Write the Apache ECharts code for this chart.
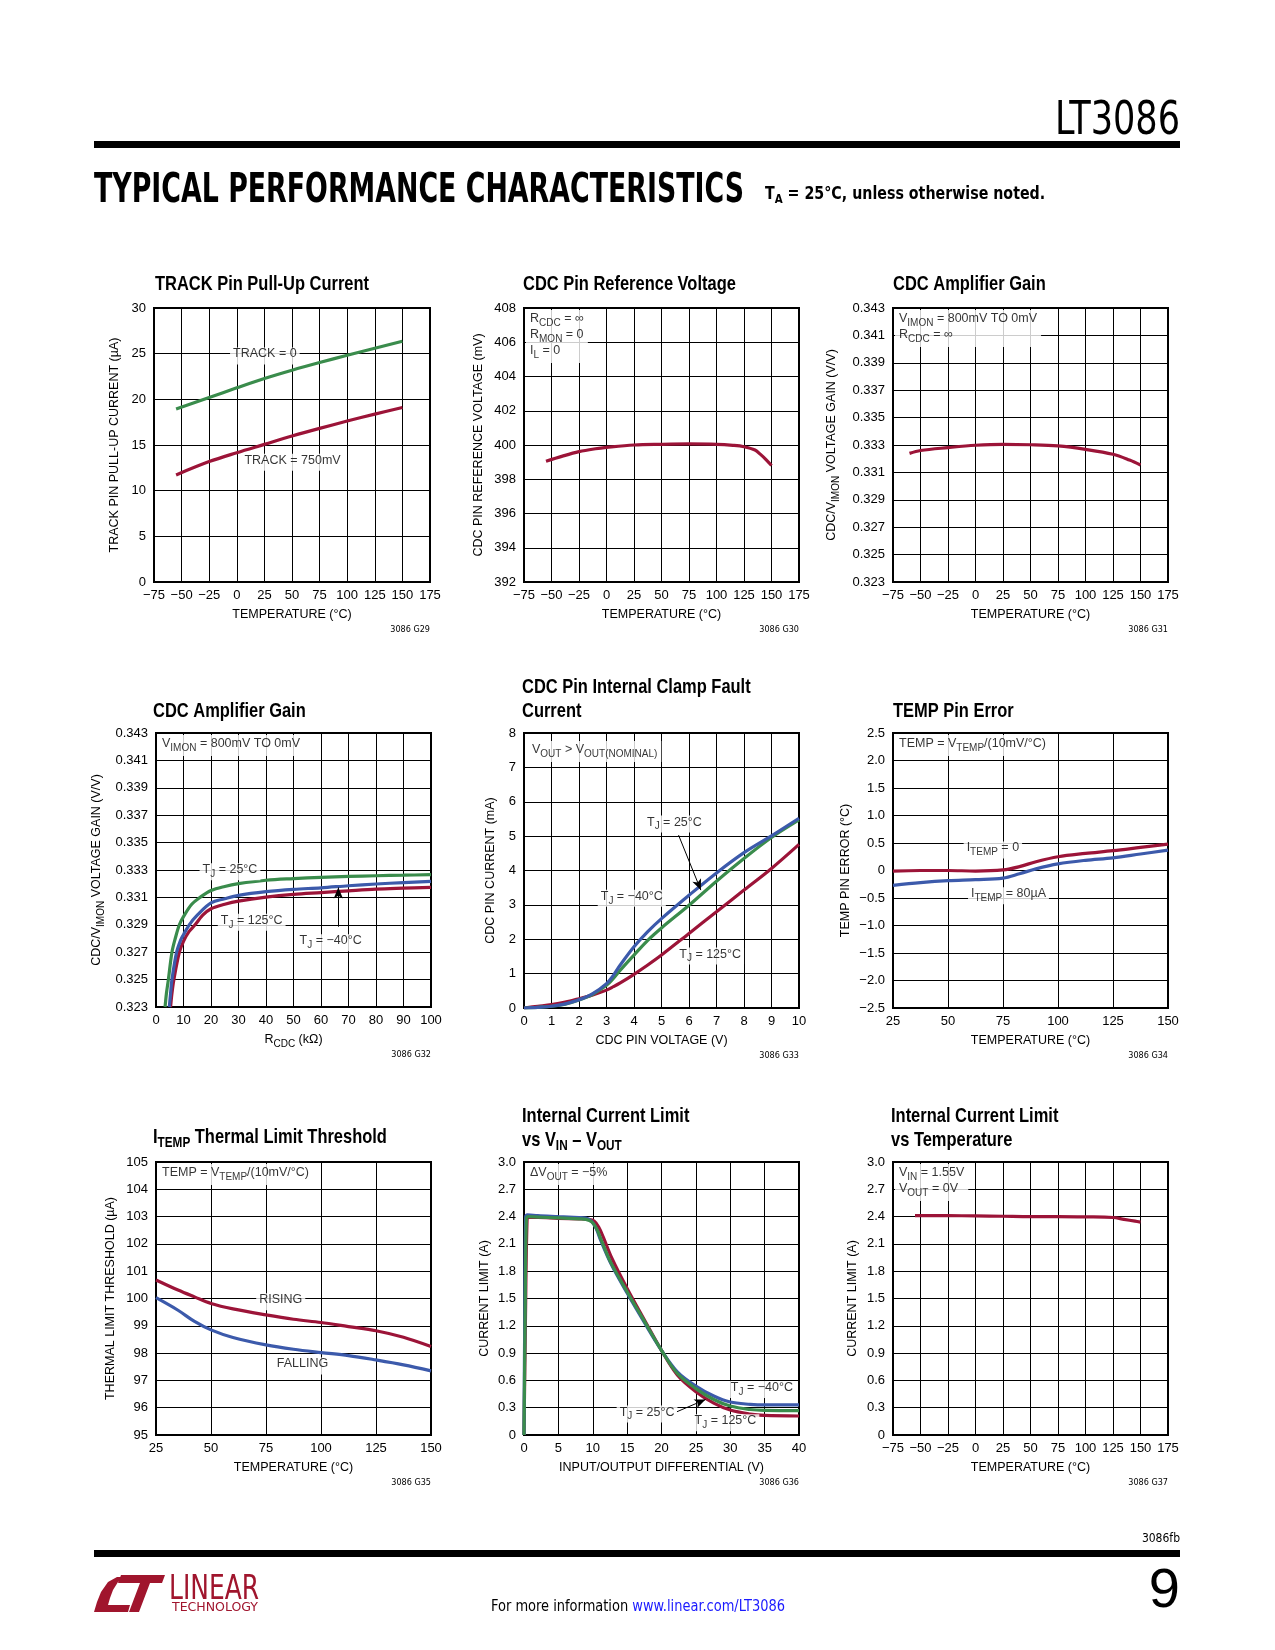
<!DOCTYPE html>
<html><head><meta charset="utf-8">
<script src="https://cdn.jsdelivr.net/npm/echarts@6/dist/echarts.min.js"></script>
<style>html,body{margin:0;padding:0;background:#fff}#c{width:1275px;height:1650px}</style>
</head><body><div id="c"></div>
<script>
// ================= DATA =================
// Chart 1: TRACK Pin Pull-Up Current
const c1Temp = [-55, -25, 0, 25, 50, 75, 100, 125, 150];
const c1Track0 = [18.93, 20.2, 21.26, 22.28, 23.19, 24.03, 24.83, 25.6, 26.36];
const c1Track750 = [11.72, 13.18, 14.16, 15.07, 15.98, 16.82, 17.62, 18.38, 19.11];

// Chart 2: CDC Pin Reference Voltage
const c2Temp = [-55, -40, -25, -10, 0, 25, 50, 75, 100, 115, 125, 135, 140, 145, 150];
const c2Vref = [399.05, 399.35, 399.61, 399.78, 399.86, 400.0, 400.04, 400.06, 400.04, 399.98, 399.9, 399.71, 399.45, 399.15, 398.8];

// Chart 3: CDC Amplifier Gain vs temperature
const c3Temp = [-60, -50, -25, 0, 25, 50, 75, 100, 125, 140, 150];
const c3Gain = [0.33239, 0.3326, 0.33281, 0.33298, 0.33305, 0.33302, 0.33293, 0.33268, 0.33232, 0.3319, 0.33154];

// Chart 4: CDC Amplifier Gain vs RCDC
const c4R25 = [3.3, 3.8, 4.5, 5.8, 7, 8.5, 10, 13, 16, 20, 25, 30, 40, 50, 60, 70, 80, 90, 100];
const c4G25 = [0.323, 0.324, 0.325, 0.327, 0.328, 0.329, 0.3296, 0.3305, 0.3310, 0.3315, 0.3318, 0.3320, 0.33225, 0.33237, 0.33246, 0.33253, 0.33258, 0.33262, 0.33266];
const c4Rm40 = [4.85, 5.3, 5.8, 7.5, 9, 10, 12.1, 15, 20, 25, 30, 40, 50, 60, 70, 80, 90, 100];
const c4Gm40 = [0.323, 0.324, 0.325, 0.327, 0.3279, 0.32828, 0.329, 0.3297, 0.3306, 0.3309, 0.33115, 0.33142, 0.33159, 0.3317, 0.33185, 0.33198, 0.33208, 0.33217];
const c4R125 = [5.3, 5.8, 6.5, 8.5, 10, 12, 14.2, 17, 20, 25, 30, 40, 50, 60, 70, 80, 90, 100];
const c4G125 = [0.323, 0.324, 0.325, 0.327, 0.3278, 0.3285, 0.329, 0.3297, 0.33017, 0.3305, 0.33073, 0.33102, 0.33122, 0.33135, 0.33148, 0.3316, 0.33167, 0.33173];

// Chart 5: CDC Pin Internal Clamp Fault Current
const c5V = [0, 0.5, 1, 1.5, 2, 2.5, 3, 3.25, 3.5, 4, 4.5, 5, 6, 7, 8, 9, 10];
const c5Im40 = [0, 0.02, 0.05, 0.12, 0.24, 0.42, 0.71, 0.95, 1.25, 1.78, 2.22, 2.60, 3.28, 3.93, 4.52, 5.01, 5.52];
const c5I25 = [0, 0.02, 0.05, 0.11, 0.23, 0.40, 0.66, 0.86, 1.1, 1.54, 1.97, 2.33, 2.99, 3.69, 4.35, 4.96, 5.47];
const c5I125 = [0, 0.05, 0.10, 0.17, 0.27, 0.38, 0.52, 0.62, 0.73, 0.98, 1.25, 1.54, 2.17, 2.80, 3.43, 4.06, 4.76];

// Chart 6: TEMP Pin Error
const c6Temp = [25, 37.5, 50, 62.5, 75, 82.5, 90, 100, 112.5, 125, 137.5, 150];
const c6Err0 = [-0.01, 0.0, 0.0, -0.01, 0.01, 0.07, 0.16, 0.25, 0.31, 0.36, 0.42, 0.48];
const c6Err80 = [-0.27, -0.22, -0.185, -0.167, -0.14, -0.06, 0.03, 0.12, 0.185, 0.23, 0.30, 0.37];

// Chart 7: ITEMP Thermal Limit Threshold
const c7Temp = [25, 35, 42.5, 50, 60, 75, 87.5, 100, 112.5, 125, 137.5, 150];
const c7Rising = [100.68, 100.31, 100.06, 99.82, 99.62, 99.40, 99.24, 99.12, 98.97, 98.82, 98.58, 98.24];
const c7Falling = [100.03, 99.57, 99.16, 98.85, 98.57, 98.30, 98.14, 98.02, 97.91, 97.75, 97.57, 97.35];

// Chart 8: Internal Current Limit vs VIN - VOUT
const c8Vm40 = [0, 0.1, 0.25, 0.5, 2, 5, 8, 9, 9.8, 10.5, 11.1, 12.6, 15, 17.4, 20, 22.3, 25, 27.6, 30, 32.9, 35, 40];
const c8Im40 = [0, 1.2, 2.40, 2.42, 2.41, 2.40, 2.39, 2.385, 2.35, 2.27, 2.15, 1.89, 1.56, 1.25, 0.93, 0.695, 0.538, 0.428, 0.362, 0.337, 0.33, 0.33];
const c8V25 = [0, 0.15, 0.35, 0.6, 2, 5, 8, 9, 9.9, 10.6, 11.2, 12.6, 15, 17.4, 20, 22.3, 25, 27.6, 30, 32.9, 35, 40];
const c8I25 = [0, 1.2, 2.38, 2.40, 2.395, 2.385, 2.375, 2.37, 2.34, 2.26, 2.15, 1.90, 1.575, 1.265, 0.93, 0.677, 0.51, 0.39, 0.318, 0.28, 0.27, 0.267];
const c8V125 = [0, 0.2, 0.45, 0.7, 2, 5, 8, 9.3, 10.2, 10.9, 11.5, 12.8, 15, 17.4, 20, 22.3, 25, 27.6, 30, 32.9, 35, 40];
const c8I125 = [0, 1.2, 2.37, 2.39, 2.39, 2.38, 2.375, 2.37, 2.35, 2.28, 2.18, 1.94, 1.61, 1.28, 0.93, 0.66, 0.476, 0.35, 0.274, 0.23, 0.215, 0.209];

// Chart 9: Internal Current Limit vs Temperature
const c9Temp = [-55, -25, 0, 25, 50, 75, 100, 125, 135, 145, 150];
const c9Ilim = [2.41, 2.41, 2.408, 2.404, 2.40, 2.40, 2.397, 2.39, 2.37, 2.35, 2.34];

// ================= STYLE =================
const FONT = "'Liberation Sans',Arial,sans-serif";
const NFONT = "'DejaVu Sans Condensed','Liberation Sans',sans-serif";
const RED = '#9c1438', GREEN = '#3a8c4c', BLUE = '#3c5aab', LOGO = '#a0152d';
const fmtInt = v => (v < 0 ? '\u2212' : '') + Math.abs(v);
const fmt1 = v => Math.abs(v) < 1e-9 ? '0' : (v < 0 ? '\u2212' : '') + Math.abs(v).toFixed(1);
const fmt3 = v => v.toFixed(3);
const zip = (a, b) => a.map((x, i) => [x, b[i]]);

const RICH = {
  n: {fontFamily: FONT, fontSize: 12.5, color: '#000', lineHeight: 16, verticalAlign: 'top'},
  s: {fontFamily: FONT, fontSize: 10, color: '#000', lineHeight: 10, padding: [6, 0, 0, 0], verticalAlign: 'top'}
};
const TRICH = {
  b: {fontFamily: FONT, fontSize: 21, fontWeight: 'bold', fill: '#000', lineHeight: 24, verticalAlign: 'top'},
  bs: {fontFamily: FONT, fontSize: 15, fontWeight: 'bold', fill: '#000', lineHeight: 14, padding: [9, 0, 0, 0], verticalAlign: 'top'}
};
const TJ = t => '{n|T}{s|J}{n| = ' + t + '}';

const panels = [
  {grid: [154, 308, 276, 274], x: [-75, 175, 25, fmtInt, 'TEMPERATURE (°C)'],
   y: [0, 30, 5, fmtInt, 'TRACK PIN PULL-UP CURRENT (µA)', 33],
   title: '{b|TRACK Pin Pull-Up Current}', tpos: [155, 273.5], note: '3086 G29',
   lines: [[c1Temp, c1Track0, GREEN], [c1Temp, c1Track750, RED]],
   notes: [{at: [25.4, 24.75], text: '{n|TRACK = 0}'}, {at: [50.5, 13.1], text: '{n|TRACK = 750mV}'}]},
  {grid: [524, 308, 275, 274], x: [-75, 175, 25, fmtInt, 'TEMPERATURE (°C)'],
   y: [392, 408, 2, fmtInt, 'CDC PIN REFERENCE VOLTAGE (mV)', 39],
   title: '{b|CDC Pin Reference Voltage}', tpos: [523, 273.5], note: '3086 G30',
   lines: [[c2Temp, c2Vref, RED]],
   box: '{n|R}{s|CDC}{n| = ∞}\n{n|R}{s|MON}{n| = 0}\n{n|I}{s|L}{n| = 0}'},
  {grid: [893, 308, 275, 274], x: [-75, 175, 25, fmtInt, 'TEMPERATURE (°C)'],
   y: [0.323, 0.343, 0.002, fmt3, '{n|CDC/V}{s|IMON}{n| VOLTAGE GAIN (V/V)}', 52],
   title: '{b|CDC Amplifier Gain}', tpos: [893, 273.5], note: '3086 G31',
   lines: [[c3Temp, c3Gain, RED]],
   box: '{n|V}{s|IMON}{n| = 800mV TO 0mV}\n{n|R}{s|CDC}{n| = ∞}'},
  {grid: [156, 733, 275, 274], x: [0, 100, 10, fmtInt, '{n|R}{s|CDC}{n| (kΩ)}'],
   y: [0.323, 0.343, 0.002, fmt3, '{n|CDC/V}{s|IMON}{n| VOLTAGE GAIN (V/V)}', 50],
   title: '{b|CDC Amplifier Gain}', tpos: [153, 700.5], note: '3086 G32',
   lines: [[c4R125, c4G125, RED], [c4Rm40, c4Gm40, BLUE], [c4R25, c4G25, GREEN]],
   box: '{n|V}{s|IMON}{n| = 800mV TO 0mV}',
   notes: [{at: [26.9, 0.33288], text: TJ('25°C')}, {at: [34.8, 0.32918], text: TJ('125°C')}, {at: [63.5, 0.32769], text: TJ('\u221240°C')}],
   arrows: [[[66.3, 0.32886], [66.3, 0.33172]]]},
  {grid: [524, 733, 275, 275], x: [0, 10, 1, fmtInt, 'CDC PIN VOLTAGE (V)'],
   y: [0, 8, 1, fmtInt, 'CDC PIN CURRENT (mA)', 27],
   title: '{b|CDC Pin Internal Clamp Fault}\n{b|Current}', tpos: [522, 676.5], note: '3086 G33',
   lines: [[c5V, c5I125, RED], [c5V, c5I25, GREEN], [c5V, c5Im40, BLUE]],
   box: '{n|V}{s|OUT}{n| > V}{s|OUT(NOMINAL)}', boxOff: [4, 8],
   notes: [{at: [5.47, 5.35], text: TJ('25°C')}, {at: [3.92, 3.19], text: TJ('\u221240°C')}, {at: [6.77, 1.51], text: TJ('125°C')}],
   arrows: [[[5.62, 5.03], [6.43, 3.43]]]},
  {grid: [893, 733, 275, 275], x: [25, 150, 25, fmtInt, 'TEMPERATURE (°C)'],
   y: [-2.5, 2.5, 0.5, fmt1, 'TEMP PIN ERROR (°C)', 41],
   title: '{b|TEMP Pin Error}', tpos: [893, 700.5], note: '3086 G34',
   lines: [[c6Temp, c6Err80, BLUE], [c6Temp, c6Err0, RED]],
   box: '{n|TEMP = V}{s|TEMP}{n|/(10mV/°C)}',
   notes: [{at: [70.4, 0.374], text: '{n|I}{s|TEMP}{n| = 0}'}, {at: [77.5, -0.459], text: '{n|I}{s|TEMP}{n| = 80µA}'}]},
  {grid: [156, 1162, 275, 273], x: [25, 150, 25, fmtInt, 'TEMPERATURE (°C)'],
   y: [95, 105, 1, fmtInt, 'THERMAL LIMIT THRESHOLD (µA)', 39],
   title: '{b|I}{bs|TEMP}{b| Thermal Limit Threshold}', tpos: [153, 1126.5], note: '3086 G35',
   lines: [[c7Temp, c7Falling, BLUE], [c7Temp, c7Rising, RED]],
   box: '{n|TEMP = V}{s|TEMP}{n|/(10mV/°C)}',
   notes: [{at: [81.7, 99.88], text: '{n|RISING}'}, {at: [91.6, 97.53], text: '{n|FALLING}'}]},
  {grid: [524, 1162, 275, 273], x: [0, 40, 5, fmtInt, 'INPUT/OUTPUT DIFFERENTIAL (V)'],
   y: [0, 3, 0.3, fmt1, 'CURRENT LIMIT (A)', 33],
   title: '{b|Internal Current Limit}\n{b|vs V}{bs|IN}{b| \u2013 V}{bs|OUT}', tpos: [522, 1105.5], note: '3086 G36',
   lines: [[c8V125, c8I125, RED], [c8Vm40, c8Im40, BLUE], [c8V25, c8I25, GREEN]],
   box: '{n|ΔV}{s|OUT}{n| = \u22125%}',
   notes: [{at: [34.6, 0.50], text: TJ('\u221240°C')}, {at: [17.9, 0.23], text: TJ('25°C')}, {at: [29.3, 0.135], text: TJ('125°C')}],
   arrows: [[[22.25, 0.256], [26.4, 0.39]]]},
  {grid: [893, 1162, 275, 273], x: [-75, 175, 25, fmtInt, 'TEMPERATURE (°C)'],
   y: [0, 3, 0.3, fmt1, 'CURRENT LIMIT (A)', 34],
   title: '{b|Internal Current Limit}\n{b|vs Temperature}', tpos: [891, 1105.5], note: '3086 G37',
   lines: [[c9Temp, c9Ilim, RED]],
   box: '{n|V}{s|IN}{n| = 1.55V}\n{n|V}{s|OUT}{n| = 0V}'}
];

// ================= BUILD =================
const cv = document.createElement('canvas').getContext('2d');
const fit = (text, font, target) => { cv.font = font; return target / cv.measureText(text).width; };
const titleScale = fit('TRACK Pin Pull-Up Current', 'bold 21px ' + FONT, 214);

const tickText = {fontFamily: FONT, fontSize: 13, color: '#000'};
const nameText = {fontFamily: FONT, fontSize: 12.5, color: '#000'};
const grids = [], xAxes = [], yAxes = [], series = [], graphics = [];
panels.forEach((p, i) => {
  const [l, t, w, h] = p.grid;
  grids.push({left: l, top: t, width: w, height: h, show: true, borderColor: '#000', borderWidth: 2,
    backgroundColor: 'rgba(0,0,0,0)', containLabel: false, outerBoundsMode: 'none'});
  xAxes.push({gridIndex: i, type: 'value', min: p.x[0], max: p.x[1], interval: p.x[2],
    axisLine: {show: false}, axisTick: {show: false},
    splitLine: {show: true, lineStyle: {color: '#000', width: 1}},
    axisLabel: Object.assign({margin: 7, formatter: p.x[3], showMinLabel: true, showMaxLabel: true, hideOverlap: false}, tickText),
    name: p.x[4], nameLocation: 'middle', nameGap: 26, nameMoveOverlap: false,
    nameTextStyle: Object.assign({rich: RICH}, nameText)});
  yAxes.push({gridIndex: i, type: 'value', min: p.y[0], max: p.y[1], interval: p.y[2],
    axisLine: {show: false}, axisTick: {show: false},
    splitLine: {show: true, lineStyle: {color: '#000', width: 1}},
    axisLabel: Object.assign({margin: 8, formatter: p.y[3], showMinLabel: true, showMaxLabel: true, hideOverlap: false}, tickText),
    name: p.y[4], nameLocation: 'middle', nameGap: p.y[5], nameMoveOverlap: false,
    nameTextStyle: Object.assign({rich: RICH}, nameText)});
  graphics.push({type: 'text', x: p.tpos[0], y: p.tpos[1], scaleX: titleScale,
    style: {text: p.title, rich: TRICH, align: 'left', verticalAlign: 'top'}});
  p.lines.forEach((ln, k) => {
    const s = {type: 'line', xAxisIndex: i, yAxisIndex: i, data: zip(ln[0], ln[1]), showSymbol: false,
      smooth: 0.35, lineStyle: {color: ln[2], width: 3.2}, itemStyle: {color: ln[2]},
      z: 2, silent: true, emphasis: {disabled: true}};
    if (k === 0 && p.arrows) {
      s.markLine = {silent: true, symbol: ['none', 'arrow'], symbolSize: [7, 11], animation: false,
        lineStyle: {color: '#000', width: 1, type: 'solid'}, label: {show: false}, emphasis: {disabled: true},
        data: p.arrows.map(a => [{coord: a[0]}, {coord: a[1]}])};
    }
    series.push(s);
  });
  const nd = [];
  if (p.box) {
    const off = p.boxOff || [2, 2];
    nd.push({value: [p.x[0], p.y[1]], label: {show: true, position: [0, 0], offset: off, align: 'left', verticalAlign: 'top',
      formatter: p.box, rich: RICH, backgroundColor: '#fff', padding: [2, 4, 3, 4]}});
  }
  (p.notes || []).forEach(n => nd.push({value: n.at, label: {show: true, position: [0, 0], align: 'center', verticalAlign: 'middle',
    formatter: n.text, rich: RICH, backgroundColor: '#fff', padding: [0, 3, 1, 3]}}));
  if (nd.length) series.push({type: 'scatter', xAxisIndex: i, yAxisIndex: i, symbolSize: 0.01, silent: true, z: 4,
    itemStyle: {color: 'rgba(0,0,0,0)'}, emphasis: {disabled: true}, clip: false, data: nd});
  graphics.push({type: 'text', x: l + w, y: t + h + 48, style: {text: p.note, fontFamily: NFONT, fontSize: 9, fill: '#000', align: 'right', verticalAlign: 'middle'}});
});

// page decorations
graphics.push(
  {type: 'text', x: 1180, y: 122, scaleX: fit('LT3086', '46px ' + NFONT, 125),
   style: {text: 'LT3086', fontFamily: NFONT, fontSize: 46, fill: '#000', align: 'right', verticalAlign: 'middle'}},
  {type: 'rect', shape: {x: 94, y: 141, width: 1086, height: 7}, style: {fill: '#000'}},
  {type: 'text', x: 94, y: 192, scaleX: fit('TYPICAL PERFORMANCE CHARACTERISTICS', 'bold 40px ' + NFONT, 650),
   style: {text: 'TYPICAL PERFORMANCE CHARACTERISTICS', fontFamily: NFONT, fontSize: 40, fontWeight: 'bold', fill: '#000', align: 'left', verticalAlign: 'middle'}},
  {type: 'text', x: 765, y: 185, scaleX: fit('TA = 25°C, unless otherwise noted.', 'bold 18px ' + NFONT, 282),
   style: {text: '{a|T}{as|A}{a| = 25°C, unless otherwise noted.}', align: 'left', verticalAlign: 'top',
     rich: {a: {fontFamily: NFONT, fontSize: 18, fontWeight: 'bold', fill: '#000', lineHeight: 20, verticalAlign: 'top'},
            as: {fontFamily: NFONT, fontSize: 13, fontWeight: 'bold', fill: '#000', lineHeight: 12, padding: [8, 0, 0, 0], verticalAlign: 'top'}}}},
  {type: 'text', x: 1180, y: 1539, style: {text: '3086fb', fontFamily: NFONT, fontSize: 12, fill: '#000', align: 'right', verticalAlign: 'middle'}},
  {type: 'rect', shape: {x: 94, y: 1550, width: 1086, height: 7}, style: {fill: '#000'}},
  {type: 'text', x: 1180, y: 1592, style: {text: '9', fontFamily: FONT, fontSize: 56, fill: '#000', align: 'right', verticalAlign: 'middle'}},
  {type: 'text', x: 491, y: 1607, scaleX: fit('For more information www.linear.com/LT3086', '16px ' + NFONT, 294),
   style: {text: '{a|For more information }{b|www.linear.com/LT3086}', align: 'left', verticalAlign: 'middle',
     rich: {a: {fontFamily: NFONT, fontSize: 16, fill: '#000'}, b: {fontFamily: NFONT, fontSize: 16, fill: '#1a1aff'}}}},
  {type: 'polygon', shape: {points: [[94, 1612], [128, 1612], [130, 1605], [108, 1605], [110, 1598], [113, 1590], [118, 1582], [126, 1577], [117, 1577], [108, 1582], [101, 1592], [97, 1602]]}, style: {fill: LOGO}},
  {type: 'polygon', shape: {points: [[121, 1575], [165, 1575], [162, 1583], [150, 1583], [139, 1612], [129, 1612], [140, 1583], [118, 1583]]}, style: {fill: LOGO}},
  {type: 'text', x: 169, y: 1590, scaleX: fit('LINEAR', '34px ' + NFONT, 90),
   style: {text: 'LINEAR', fontFamily: NFONT, fontSize: 34, fill: LOGO, align: 'left', verticalAlign: 'middle'}},
  {type: 'text', x: 172, y: 1608, scaleX: fit('TECHNOLOGY', '12px ' + NFONT, 86),
   style: {text: 'TECHNOLOGY', fontFamily: NFONT, fontSize: 12, fill: LOGO, align: 'left', verticalAlign: 'middle'}}
);

const chart = echarts.init(document.getElementById('c'), null, {renderer: 'canvas'});
chart.setOption({
  backgroundColor: '#fff', animation: false,
  grid: grids, xAxis: xAxes, yAxis: yAxes, series: series, graphic: graphics
});
</script>
</body></html>
